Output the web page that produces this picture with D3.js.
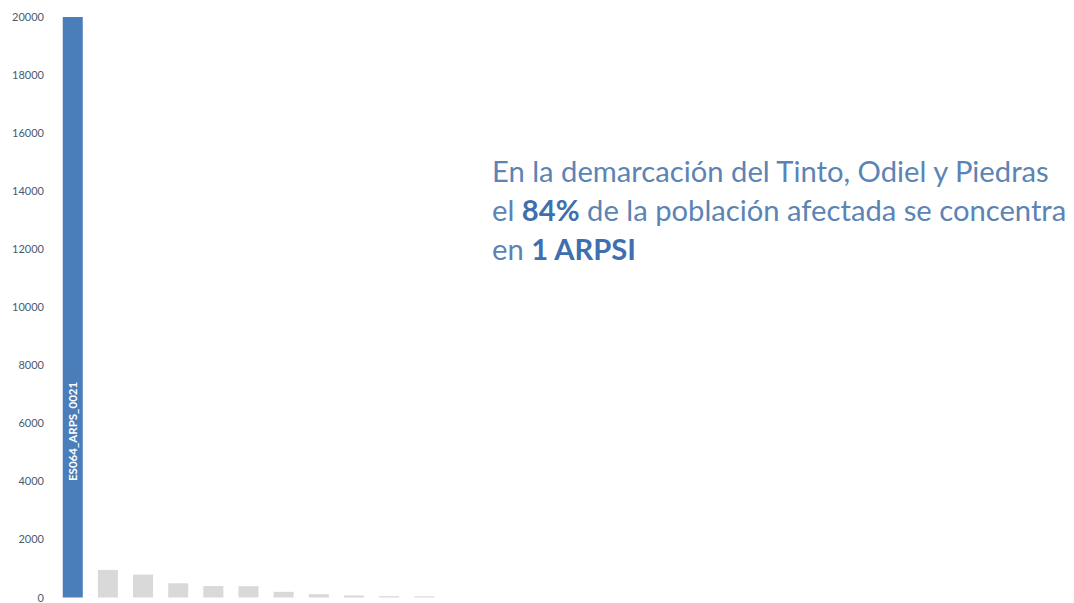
<!DOCTYPE html>
<html>
<head>
<meta charset="utf-8">
<script src="https://cdn.jsdelivr.net/npm/d3@7"></script>
<style>
  html, body { margin: 0; padding: 0; background: #fff; }
  svg { display: block; }
</style>
</head>
<body>
<div id="chart"></div>
<script>
// ARPSI by affected population (Tinto, Odiel y Piedras)
const ARPSI = ['ES064_ARPS_0021', 'a2', 'a3', 'a4', 'a5', 'a6', 'a7', 'a8', 'a9', 'a10', 'a11']
const POBLACION = [20000, 950, 790, 490, 395, 390, 195, 115, 70, 45, 40]
const Y_TICKS = [0, 2000, 4000, 6000, 8000, 10000, 12000, 14000, 16000, 18000, 20000]

const width = 1074
const height = 603
const margin = { top: 17, bottom: 5.5, left: 55, right: 632 }

const BLUE = '#4a7ebb'
const GREY = '#d9d9d9'
const FONT = 'Lato, "Open Sans", sans-serif'

const svg = d3.select('#chart').append('svg')
  .attr('width', width).attr('height', height)

const x = d3.scaleBand()
  .domain(ARPSI)
  .range([margin.left, width - margin.right])
  .paddingInner(0.43).paddingOuter(0.22)

const y = d3.scaleLinear()
  .domain([0, 20000])
  .range([height - margin.bottom, margin.top])

// Y axis
svg.append('g')
  .attr('transform', `translate(${margin.left - 10},0)`)
  .call(d3.axisLeft(y).tickValues(Y_TICKS).tickSize(0).tickPadding(1).tickFormat(d => d))
  .call(g => {
    g.select('.domain').remove()
    g.selectAll('.tick text')
      .attr('fill', '#4b5b6e').attr('font-size', '11px')
      .attr('font-family', FONT)
  })

// Bars
svg.append('g').selectAll('rect')
  .data(ARPSI)
  .join('rect')
  .attr('x', d => x(d))
  .attr('width', x.bandwidth())
  .attr('y', (d, i) => y(POBLACION[i]))
  .attr('height', (d, i) => y(0) - y(POBLACION[i]))
  .attr('fill', (d, i) => i === 0 ? BLUE : GREY)

// label inside main bar
svg.append('text')
  .attr('transform', `translate(${x(ARPSI[0]) + x.bandwidth() / 2 + 4},${481}) rotate(-90)`)
  .attr('fill', '#fff').attr('font-size', '11.5px').attr('font-weight', 'bold')
  .attr('font-family', FONT)
  .text(ARPSI[0])

// Headline
const lines = [
  [{ t: 'En la demarcación del Tinto, Odiel y Piedras' }],
  [{ t: 'el ' }, { t: '84%', b: true }, { t: ' de la población afectada se concentra' }],
  [{ t: 'en ' }, { t: '1 ARPSI', b: true }],
]
const head = svg.append('text')
  .attr('x', 492).attr('y', 182)
  .attr('font-family', FONT).attr('font-size', '29.2px')
  .attr('fill', '#5b84b5')

lines.forEach((line, li) => {
  line.forEach((part, pi) => {
    const ts = head.append('tspan').text(part.t)
    if (pi === 0) ts.attr('x', 492).attr('y', 182 + li * 39)
    if (part.b) ts.attr('font-weight', 'bold').attr('fill', '#3f6fae')
  })
})
</script>
</body>
</html>
